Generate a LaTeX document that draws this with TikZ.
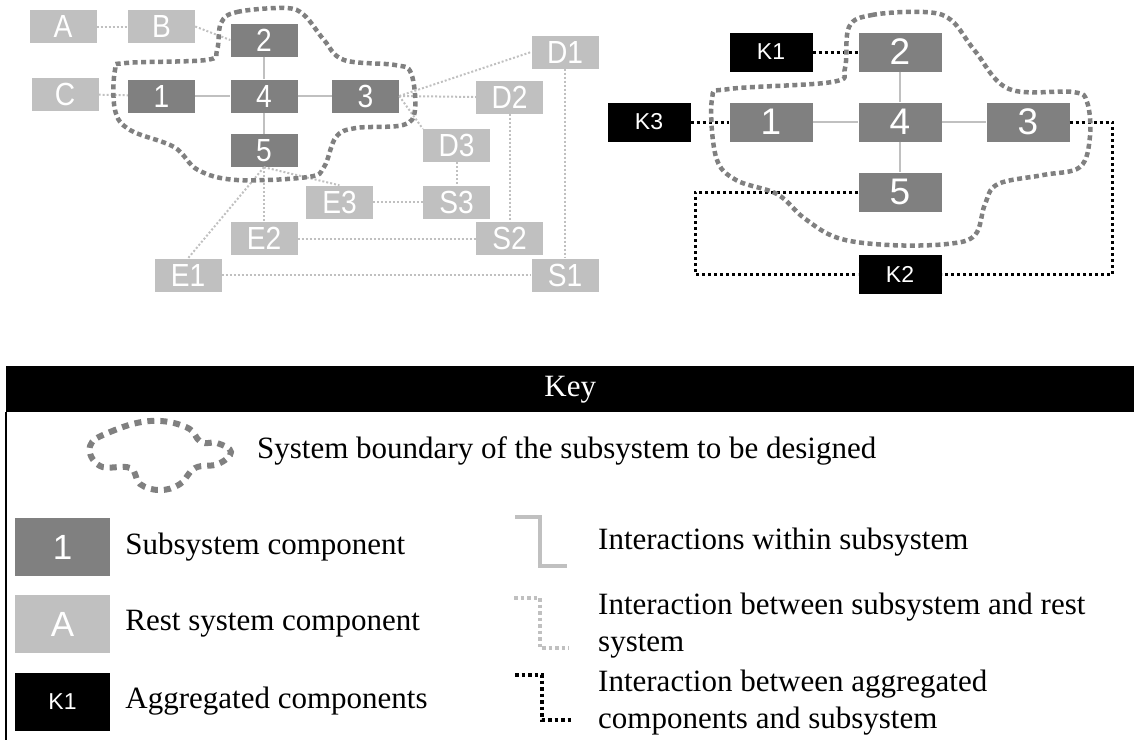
\documentclass[tikz,border=0pt]{standalone}
\usepackage{fontspec}
\setmainfont{Liberation Serif}
\newfontfamily\boxfont{Liberation Sans}
\newfontfamily\narrowfont[FakeStretch=0.88]{Liberation Sans}
\usetikzlibrary{positioning}
\definecolor{subgray}{HTML}{808080}
\definecolor{restgray}{HTML}{C0C0C0}

\begin{document}
\begin{tikzpicture}[x=1pt, y=-1pt,
    every node/.style={inner sep=0pt, text=white},
    subbox/.style={fill=subgray, minimum width=67pt, minimum height=33pt, font=\narrowfont\fontsize{32}{32}\selectfont},
    restbox/.style={subbox, fill=restgray},
    bigbox/.style={fill=subgray, minimum width=83pt, minimum height=39pt, font=\boxfont\fontsize{37}{37}\selectfont},
    aggbox/.style={bigbox, fill=black, font=\boxfont\fontsize{23}{23}\selectfont},
    inner/.style={draw=restgray, line width=2pt},
    restline/.style={draw=restgray, line width=2pt, dash pattern=on 2pt off 2pt},
    aggline/.style={draw=black, line width=3pt, dash pattern=on 3pt off 3pt},
    boundary/.style={draw=subgray, line width=4.5pt, dash pattern=on 5pt off 3.5pt},
    keybox/.style={minimum width=95pt, minimum height=58pt},
    keytext/.style={text=black, anchor=west, align=left, font=\fontsize{31}{37}\selectfont}
]
\useasboundingbox (0,0) rectangle (1134,740);

% whole system
\node[restbox] (A) at (63,26.5) {A};
\node[restbox] (B) at (161.5,26.5) {B};
\node[restbox] (C) at (65,94) {C};
\node[subbox] (L2) at (264,40) {2};
\node[subbox] (L1) at (161.5,96) {1};
\node[subbox] (L4) at (264,96) {4};
\node[subbox] (L3) at (365.5,96) {3};
\node[subbox] (L5) at (264,150.5) {5};
\node[restbox] (D1) at (565,52) {D1};
\node[restbox] (D2) at (509.5,97) {D2};
\node[restbox] (D3) at (456.5,145.5) {D3};
\node[restbox] (E3) at (339.5,202) {E3};
\node[restbox] (S3) at (456.5,202) {S3};
\node[restbox] (E2) at (264,238.5) {E2};
\node[restbox] (S2) at (509.5,238.5) {S2};
\node[restbox] (E1) at (188,275) {E1};
\node[restbox] (S1) at (565,275) {S1};

\draw[inner] (L2) -- (L4) (L1) -- (L4) (L4) -- (L3) (L4) -- (L5);
\draw[restline] (A) -- (B);
\draw[restline] (B.east) -- (L2.west);
\draw[restline] (C) -- (L1);
\draw[restline] (L3.east) -- (D1.west);
\draw[restline] (L3.east) -- (D2.west);
\draw[restline] (L3.east) -- (D3.north west);
\draw[restline] (D1) -- (S1);
\draw[restline] (D2) -- (S2);
\draw[restline] (D3) -- (S3);
\draw[restline] (E3) -- (S3);
\draw[restline] (E2) -- (S2);
\draw[restline] (E1) -- (S1);
\draw[restline] (L5.south) -- (E1.north);
\draw[restline] (L5.south) -- (E2.north);
\draw[restline] (L5.south) -- (E3.north);

\draw[boundary] plot[smooth cycle, tension=0.6] coordinates {
  (221,23) (237,12) (285,8) (304,15) (324,40) (344,60) (395,65) (411,73)
  (415,110) (403,125) (356,128) (336,137) (324,167) (308,177) (237,180)
  (198,170) (174,147) (130,130) (115,110) (115,70) (126,63) (206,60) (217,50)};

% aggregated view
\node[aggbox] (K1) at (771,52) {K1};
\node[aggbox] (K3) at (649,122) {K3};
\node[aggbox] (K2) at (900,274) {K2};
\node[bigbox] (R2) at (900,52) {2};
\node[bigbox] (R1) at (771,122) {1};
\node[bigbox] (R4) at (900,122) {4};
\node[bigbox] (R3) at (1028,122) {3};
\node[bigbox] (R5) at (900,192) {5};

\draw[inner] (R2) -- (R4) (R1) -- (R4) (R4) -- (R3) (R4) -- (R5);
\draw[aggline] (K1) -- (R2);
\draw[aggline] (K3) -- (R1);
\draw[aggline] (R3.east) -- ++(43,0) |- (K2.east);
\draw[aggline] (R5.west) -- ++(-163,0) |- (K2.west);

\draw[boundary] plot[smooth cycle, tension=0.6] coordinates {
  (849,27) (872,15) (924,12) (951,20) (975,51) (1009,89) (1073,92) (1087,102)
  (1090,136) (1080,167) (1043,175) (998,184) (985,204) (975,235) (947,244)
  (889,245) (838,238) (804,218) (777,194) (736,180) (716,157) (712,99)
  (729,89) (832,82) (845,68)};

% key
\node[fill=black, minimum width=1128pt, minimum height=46pt, anchor=north west,
  font=\fontsize{31}{31}\selectfont] (keyhead) at (6,366) {Key};
\draw[line width=1.5pt] (keyhead.south west) -- (6,740);

\draw[draw=subgray, line width=6pt, dash pattern=on 7pt off 6pt]
  plot[smooth cycle, tension=0.7] coordinates {
  (90,446) (110,432) (150,421) (186,427) (201,442) (217,443) (231,452)
  (218,464) (195,468) (180,484) (160,490) (140,484) (130,468) (100,466)};
\node[keytext] (keybound) at (257,451) {System boundary of the subsystem to be designed};

\node[keybox, fill=subgray, font=\boxfont\fontsize{35}{35}\selectfont] (keysub) at (62.5,547) {1};
\node[keybox, fill=restgray, font=\boxfont\fontsize{35}{35}\selectfont] (keyrest) at (62.5,624) {A};
\node[keybox, fill=black, font=\boxfont\fontsize{23}{23}\selectfont] (keyagg) at (62.5,701.5) {K1};
\node[keytext, right=15pt of keysub] {Subsystem component};
\node[keytext, right=15pt of keyrest] {Rest system component};
\node[keytext, right=15pt of keyagg] {Aggregated components};

\draw[inner, line width=4pt] (515,517) -- (540,517) -- (540,566) -- (567,566);
\draw[restline, line width=3.5pt, dash pattern=on 3.5pt off 3pt] (514,598) -- (540,598) -- (540,648) -- (569,648);
\draw[aggline, line width=3.5pt, dash pattern=on 3.5pt off 3pt] (515,675) -- (542,675) -- (542,720) -- (571,720);
\node[keytext] (keyin) at (598,542) {Interactions within subsystem};
\node[keytext] (keyrestline) at (598,626) {Interaction between subsystem and rest\\system};
\node[keytext] (keyaggline) at (598,703) {Interaction between aggregated\\components and subsystem};
\end{tikzpicture}
\end{document}
